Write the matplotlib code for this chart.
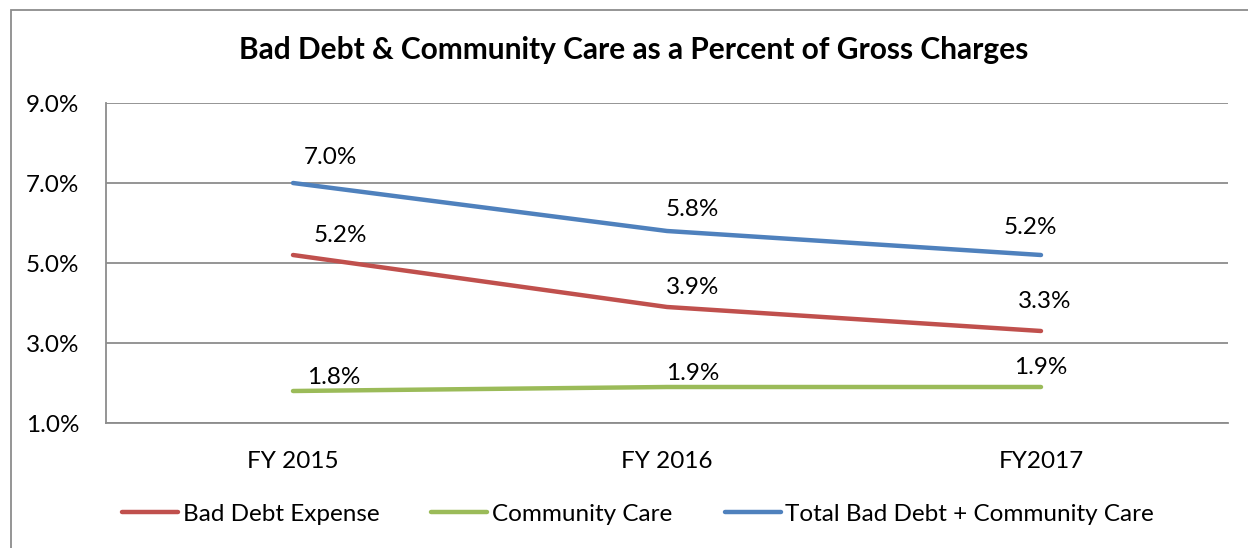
import matplotlib
matplotlib.use("Agg")
import matplotlib.pyplot as plt
from matplotlib.patches import Rectangle
from matplotlib.ticker import FuncFormatter

plt.rcParams['font.family'] = ['Lato', 'DejaVu Sans']

categories = ["FY 2015", "FY 2016", "FY2017"]
bad_debt = [5.2, 3.9, 3.3]
community_care = [1.8, 1.9, 1.9]
total = [7.0, 5.8, 5.2]
series_names = ["Bad Debt Expense", "Community Care", "Total Bad Debt + Community Care"]
yticks = [1.0, 3.0, 5.0, 7.0, 9.0]

colors = ["#C0504D", "#9BBB59", "#4F81BD"]
# label offsets in pixels (dx, dy) per series per point
offsets = [
    [(47, 19), (26, 20), (4, 29)],
    [(41, 13), (26, 13), (0, 20)],
    [(37, 26), (25, 21), (-11, 27)],
]

W, H = 1248, 548
fs = 17.5
fig = plt.figure(figsize=(W / 100, H / 100), dpi=100)
fig.patch.set_facecolor("white")
fig.add_artist(Rectangle((11 / W, -0.1), 1.2, 1.1 - 9.5 / H, transform=fig.transFigure,
                         fill=False, edgecolor="#8c8c8c", lw=1.3))

ax = fig.add_axes([106 / W, (H - 423) / H, (1228 - 106) / W, (423 - 103) / H])
x = [i + 0.5 for i in range(len(categories))]
all_series = [bad_debt, community_care, total]
for vals, name, c, offs in zip(all_series, series_names, colors, offsets):
    ax.plot(x, vals, color=c, lw=3.2, solid_capstyle="round", label=name)
    for xi, v, (dx, dy) in zip(x, vals, offs):
        ax.annotate(f"{v:.1f}%", (xi, v), xytext=(dx, dy), textcoords="offset pixels",
                    ha="center", va="center", fontsize=fs, color="black")

ax.set_xlim(0, len(categories))
ax.set_ylim(1.0, 9.0)
ax.set_yticks(yticks)
ax.yaxis.set_major_formatter(FuncFormatter(lambda v, p: f"{v:.1f}%"))
ax.set_xticks(x)
ax.set_xticklabels(categories)
ax.tick_params(axis="both", length=0, labelsize=fs, colors="black")
ax.tick_params(axis="x", pad=20)
ax.tick_params(axis="y", pad=19)
ax.grid(axis="y", color="#8c8c8c", lw=1.3)
for s in ["top", "right"]:
    ax.spines[s].set_visible(False)
for s in ["left", "bottom"]:
    ax.spines[s].set_color("#8c8c8c")
    ax.spines[s].set_linewidth(1.3)
ax.set_axisbelow(True)

fig.text(634 / W, (H - 50) / H, "Bad Debt & Community Care as a Percent of Gross Charges",
         ha="center", va="center", fontsize=21.5, fontweight="bold")

fig.legend(loc="center", bbox_to_anchor=(638 / W, (H - 514) / H), ncol=3, frameon=False,
           fontsize=fs, handlelength=2.3, handletextpad=0.2, columnspacing=2.15)

fig.savefig("out.png", dpi=100)
